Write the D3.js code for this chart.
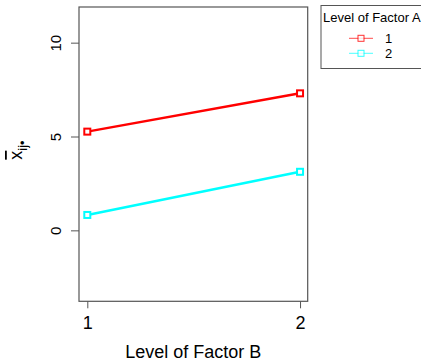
<!DOCTYPE html>
<html>
<head>
<meta charset="utf-8">
<script src="https://cdn.jsdelivr.net/npm/d3@7"></script>
<style>
  html, body { margin: 0; padding: 0; background: #fff; }
  svg { display: block; font-family: "Liberation Sans", Arial, Helvetica, sans-serif; }
</style>
</head>
<body>
<svg id="chart" width="421" height="361"></svg>
<script>
// Levels of factor B (x axis)
const levelsB = [1, 2];
// Cell means for each level of factor A
const levelsA = ["1", "2"];
const meansA1 = [5.26, 7.30];
const meansA2 = [0.82, 3.12];
const seriesColors = ["#ff0000", "#00ffff"];
// Axis ticks
const yTicks = [0, 5, 10];
const xTicks = [1, 2];

const svg = d3.select("#chart");
const plot = { left: 79, right: 307.7, top: 7, bottom: 301.3 };

const x = d3.scaleLinear().domain([0.961, 2.036]).range([plot.left, plot.right]);
const y = d3.scaleLinear().domain([-3.78, 11.9]).range([plot.bottom, plot.top]);

const series = [
  { name: levelsA[0], values: meansA1, color: seriesColors[0] },
  { name: levelsA[1], values: meansA2, color: seriesColors[1] }
];

// Y axis
const yAxis = svg.append("g")
  .attr("transform", `translate(${plot.left},0)`)
  .call(d3.axisLeft(y).tickValues(yTicks).tickSize(8).tickPadding(0).tickFormat(d3.format("d")));
yAxis.select(".domain").remove();
yAxis.selectAll(".tick line").attr("stroke", "#555");
yAxis.selectAll(".tick text")
  .attr("font-size", 15)
  .attr("fill", "#000")
  .attr("text-anchor", "middle")
  .attr("x", null).attr("dy", null)
  .attr("transform", "translate(-18,0) rotate(-90)");

// X axis
const xAxis = svg.append("g")
  .attr("transform", `translate(0,${plot.bottom})`)
  .call(d3.axisBottom(x).tickValues(xTicks).tickSize(7).tickPadding(0).tickFormat(d3.format("d")));
xAxis.select(".domain").remove();
xAxis.selectAll(".tick line").attr("stroke", "#555");
xAxis.selectAll(".tick text")
  .attr("font-size", 18)
  .attr("fill", "#000")
  .attr("dy", null)
  .attr("y", 28);

// Plot frame
svg.append("rect")
  .attr("x", plot.left).attr("y", plot.top)
  .attr("width", plot.right - plot.left).attr("height", plot.bottom - plot.top)
  .attr("fill", "none").attr("stroke", "#555").attr("stroke-width", 1.2);

// Lines and square markers
const line = d3.line().x((d, i) => x(levelsB[i])).y(d => y(d));
series.forEach(s => {
  svg.append("path")
    .datum(s.values)
    .attr("d", line)
    .attr("fill", "none")
    .attr("stroke", s.color)
    .attr("stroke-width", 2.5);
  svg.selectAll(null)
    .data(s.values)
    .enter().append("rect")
    .attr("x", (d, i) => x(levelsB[i]) - 3)
    .attr("y", d => y(d) - 3)
    .attr("width", 6).attr("height", 6)
    .attr("fill", "#fff")
    .attr("stroke", s.color)
    .attr("stroke-width", 2);
});

// Axis titles
svg.append("text")
  .attr("x", (plot.left + plot.right) / 2)
  .attr("y", 358)
  .attr("text-anchor", "middle")
  .attr("font-size", 18)
  .text("Level of Factor B");

const yTitle = svg.append("text")
  .attr("transform", "translate(22,150) rotate(-90)")
  .attr("text-anchor", "middle")
  .attr("font-size", 18);
yTitle.append("tspan").attr("text-decoration", "overline").text("x");
yTitle.append("tspan").attr("font-size", 13).attr("dy", 5).text("ij•");

// Legend
const legend = svg.append("g");
legend.append("rect")
  .attr("x", 321).attr("y", 5.5)
  .attr("width", 110).attr("height", 63)
  .attr("fill", "#fff").attr("stroke", "#555").attr("stroke-width", 1);
legend.append("text")
  .attr("x", 323).attr("y", 22)
  .attr("font-size", 13)
  .text("Level of Factor A");
series.forEach((s, i) => {
  const ly = 38.3 + i * 15;
  legend.append("line")
    .attr("x1", 349).attr("x2", 373)
    .attr("y1", ly).attr("y2", ly)
    .attr("stroke", s.color).attr("stroke-width", 1).attr("opacity", 0.7);
  legend.append("rect")
    .attr("x", 358).attr("y", ly - 3)
    .attr("width", 6).attr("height", 6)
    .attr("fill", "#fff").attr("stroke", s.color).attr("stroke-width", 1).attr("opacity", 0.8);
  legend.append("text")
    .attr("x", 385).attr("y", ly + 4.5)
    .attr("font-size", 13)
    .text(s.name);
});
</script>
</body>
</html>
